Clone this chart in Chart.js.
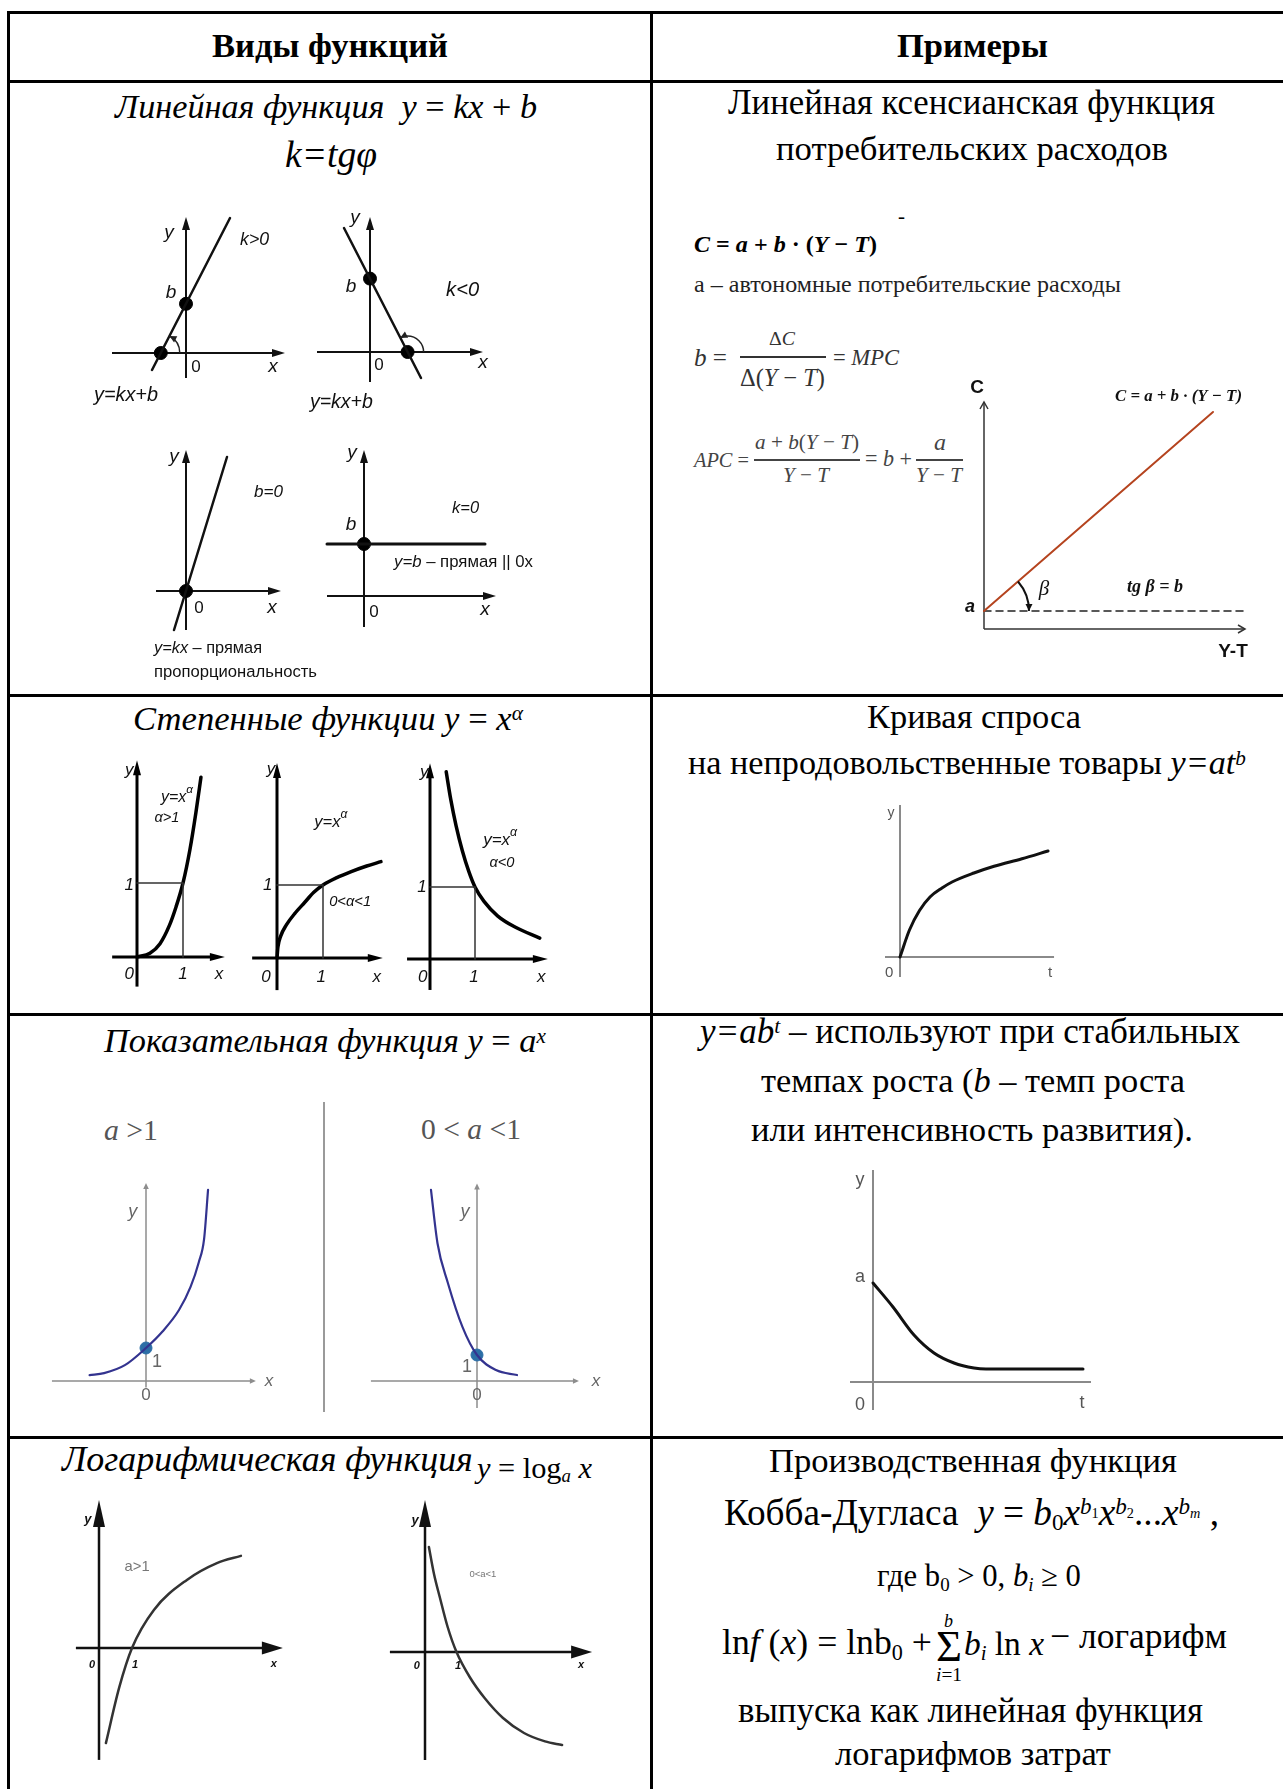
<!DOCTYPE html>
<html><head><meta charset="utf-8">
<script src="https://cdn.jsdelivr.net/npm/chart.js@4.4.1/dist/chart.umd.min.js"></script>
<style>
html,body{margin:0;padding:0;background:#fff;}
#page{position:relative;width:1283px;height:1789px;overflow:hidden;background:#fff;}
.t{position:absolute;white-space:nowrap;line-height:1;font-family:"Liberation Serif","Times New Roman",serif;color:#000;}
.t .sp{position:relative;top:-0.45em;font-size:0.62em;}
.t .sb{position:relative;top:0.25em;font-size:0.62em;}
.hl{position:absolute;background:#000;}
canvas{position:absolute;}
</style></head><body><div id="page"></div>
<script>
// ================= DATA =================
// Row 1 — linear functions (1 unit = 20 px)
const linPosLine   = [[-1.7, -0.85], [2.2, 6.75]];
const linPosDots   = [[0, 2.46], [-1.26, 0]];
const linNegLine   = [[-1.3, 6.2], [2.55, -1.3]];
const linNegDots   = [[0, 3.67], [1.88, 0]];
const linPropLine  = [[-0.6, -1.95], [2.05, 6.7]];
const linPropDots  = [[0, 0]];
const linConstLine = [[-1.85, 2.6], [6.05, 2.6]];
const linConstDots = [[0, 2.6]];
// Keynesian consumption function
const consLine = [[0, 1.8], [22.9, 21.7]];
const consBase = [[0, 1.8], [26.4, 1.8]];
// Row 2 — power functions
const powGt1  = [[0,0],[0.28,0.05],[0.5,0.18],[0.7,0.42],[0.85,0.68],[1,1],[1.15,1.45],[1.28,1.95],[1.39,2.43]];
const powMid  = [[0,0],[0.02,0.15],[0.08,0.3],[0.2,0.45],[0.4,0.62],[0.6,0.76],[0.8,0.9],[1,1],[1.3,1.1],[1.6,1.18],[1.95,1.26],[2.26,1.32]];
const powNeg  = [[0.36,2.6],[0.46,2.22],[0.58,1.85],[0.72,1.5],[0.86,1.22],[1,1],[1.2,0.8],[1.5,0.6],[1.9,0.44],[2.44,0.29]];
const powGuide = [[0,1],[1,1],[1,0]];
const demandCurve = [[0,0],[0.63,1.8],[1.3,3.1],[2.0,4.0],[2.8,4.6],[3.47,5.0],[4.93,5.6],[6.27,6.05],[8.13,6.55],[9.87,7.07]];
// Row 3 — exponential functions
const expGrow  = [[-1.71,0.18],[-1.27,0.24],[-0.64,0.48],[0,1],[0.5,1.5],[1.0,2.15],[1.35,2.85],[1.6,3.6],[1.76,4.3],[1.88,5.79]];
const expDecay = [[-1.77,7.35],[-1.52,5.3],[-1.12,3.77],[-0.56,2.08],[0,1],[0.73,0.42],[1.54,0.23]];
const expDots  = [[0,1]];
const abtCurve = [[0,4.95],[1,3.75],[2.05,2.35],[3.05,1.45],[4.05,0.95],[5.05,0.7],[5.65,0.65],[10.5,0.65]];
// Row 4 — logarithmic functions
const logGrow  = [[0.23,-3.17],[0.67,-1.33],[1.1,0],[1.83,1.27],[2.93,2.27],[3.93,2.83],[4.73,3.07]];
const logDecay = [[0.13,3.5],[0.3,2.6],[0.5,1.8],[0.75,0.85],[1.05,0],[1.5,-0.85],[2.0,-1.55],[2.6,-2.2],[3.3,-2.7],[4.0,-2.98],[4.57,-3.1]];

// Axis / annotation labels ("~" switches to upright font, "^" starts a superscript)
const linPosText   = ['y','k>0','b','0','x','y=kx+b'];
const linNegText   = ['y','b','k<0','0','x','y=kx+b'];
const linPropText  = ['y','b=0','0','x','y=kx~ – прямая','пропорциональность'];
const linConstText = ['y','b','k=0','y=b~ – прямая || 0x','0','x'];
const powGt1Text   = ['y','y=x^α','α>1','1','0','1','x'];
const powMidText   = ['y','y=x^α','0<α<1','1','0','1','x'];
const powNegText   = ['y','y=x^α','α<0','1','0','1','x'];
const demandText   = ['y','0','t'];
const expText      = ['y','1','0','x'];
const abtText      = ['y','a','0','t'];
const logGrowText  = ['y','a>1','0','1','x'];
const logDecayText = ['y','0<a<1','0','1','x'];
const consText     = ['C','Y-T','a','C = a + b · (Y − T)','β','tg β = b'];

// ================= LAYOUT =================
const page = document.getElementById('page');
function rect(l,t,w,h,c){const d=document.createElement('div');d.className='hl';
  Object.assign(d.style,{left:l+'px',top:t+'px',width:w+'px',height:h+'px',background:c||'#000'});page.appendChild(d);}
function T(html,l,r,base,color){
  const d=document.createElement('div');d.className='t';d.innerHTML=html;
  if(color)d.style.color=color;d.style.fontSize='100px';page.appendChild(d);
  const w=d.getBoundingClientRect().width;const fs=100*(r-l)/w;
  d.style.fontSize=fs.toFixed(2)+'px';d.style.left=l+'px';d.style.top=(base-0.84*fs)+'px';
}
// table grid (no right border in the reference — the table runs off the edge)
rect(7,11,1276,3); rect(7,80,1276,3); rect(7,694,1276,3); rect(7,1013,1276,3); rect(7,1436,1276,3);
rect(7,11,3,1778); rect(650,11,3,1778);
rect(323,1102,1.5,310,'#9a9a9a');
// fraction bars
rect(740,356,86,1.5,'#333'); rect(754,459,106,1.5,'#444'); rect(916,459,47,1.5,'#444');

const cells = [
 ['<b>Виды функций</b>',212,448,57],
 ['<b>Примеры</b>',897,1048,57],
 ['<i>Линейная функция</i>&nbsp; <i>y</i> = <i>kx</i> + <i>b</i>',115,537,119],
 ['<i>k=tgφ</i>',285,377,168],
 ['Линейная ксенсианская функция',728,1215,115],
 ['потребительских расходов',776,1168,161],
 ['-',898,905,224],
 ['<b><i>C</i> = <i>a</i> + <i>b</i> · (<i>Y</i> − <i>T</i>)</b>',694,877,252],
 ['а – автономные потребительские расходы',694,1121,292,'#222'],
 ['<i>b</i> =',694,727,366,'#333'],
 ['Δ<i>C</i>',769,795,346,'#333'],
 ['Δ(<i>Y</i> − <i>T</i>)',740,825,386,'#333'],
 ['= <i>MPC</i>',833,899,366,'#333'],
 ['<i>APC</i> =',694,749,467,'#444'],
 ['<i>a</i> + <i>b</i>(<i>Y</i> − <i>T</i>)',755,859,450,'#444'],
 ['<i>Y</i> − <i>T</i>',783,829,483,'#444'],
 ['= <i>b</i> +',865,912,467,'#444'],
 ['<i>a</i>',934,946,450,'#444'],
 ['<i>Y</i> − <i>T</i>',916,962,483,'#444'],
 ['<i>Степенные функции</i> <i>y</i> = <i>x</i><span class="sp"><i>α</i></span>',133,523,730],
 ['Кривая спроса',867,1081,728],
 ['на непродовольственные товары <i>y=at<span class="sp">b</span></i>',688,1246,775],
 ['<i>Показательная функция</i> <i>y</i> = <i>a<span class="sp">x</span></i>',104,546,1052],
 ['<i>a</i> &gt;1',104,158,1140,'#555'],
 ['0 &lt; <i>a</i> &lt;1',421,521,1140,'#555'],
 ['<i>y=ab<span class="sp">t</span></i> – используют при стабильных',700,1240,1043],
 ['темпах роста (<i>b</i> – темп роста',761,1185,1092],
 ['или интенсивность развития).',751,1193,1141],
 ['<i>Логарифмическая функция</i>',62,473,1472],
 ['<i>y</i> = log<span class="sb"><i>a</i></span> <i>x</i>',477,592,1478],
 ['Производственная функция',769,1177,1472],
 ['Кобба-Дугласа&nbsp; <i>y</i> = <i>b</i><span class="sb">0</span><i>x</i><span class="sp"><i>b</i><span class="sb">1</span></span><i>x</i><span class="sp"><i>b</i><span class="sb">2</span></span>...<i>x</i><span class="sp"><i>b</i><span class="sb"><i>m</i></span></span> ,',724,1219,1525],
 ['где b<span class="sb">0</span> &gt; 0, <i>b<span class="sb">i</span></i> ≥ 0',877,1081,1587],
 ['ln<i>f</i> (<i>x</i>) = lnb<span class="sb">0</span> +',722,932,1655],
 ['Σ',936,962,1662],
 ['<i>b</i>',944,953,1627],
 ['<i>i</i>=1',936,962,1681],
 ['<i>b<span class="sb">i</span></i> ln <i>x</i>',964,1044,1655],
 ['− логарифм',1050,1227,1649],
 ['выпуска как линейная функция',738,1203,1723],
 ['логарифмов затрат',835,1111,1765]
];
cells.forEach(c=>T(c[0],c[1],c[2],c[3],c[4]));

// ================= MINI CHARTS =================
const FS='"Liberation Sans", Arial, sans-serif', FR='"Liberation Serif", "Times New Roman", serif';
const fi=s=>`italic ${s}px ${FS}`, fn=s=>`${s}px ${FS}`, fb=s=>`bold ${s}px ${FS}`, fbi=s=>`italic bold ${s}px ${FS}`;
const ri=s=>`italic ${s}px ${FR}`, rbi=s=>`italic bold ${s}px ${FR}`;
const pts=a=>a.map(([x,y])=>({x,y}));

function arrowHead(ctx,p,q,arr){
  const dx=q[0]-p[0],dy=q[1]-p[1],L=Math.hypot(dx,dy),ux=dx/L,uy=dy/L;
  const bx=q[0]-ux*arr.len,by=q[1]-uy*arr.len;
  const a1=[bx-uy*arr.half,by+ux*arr.half],a2=[bx+uy*arr.half,by-ux*arr.half];
  ctx.beginPath();
  if(arr.type==='fill'){ctx.moveTo(q[0],q[1]);ctx.lineTo(a1[0],a1[1]);ctx.lineTo(a2[0],a2[1]);ctx.closePath();ctx.fill();}
  else{ctx.moveTo(a1[0],a1[1]);ctx.lineTo(q[0],q[1]);ctx.lineTo(a2[0],a2[1]);ctx.stroke();}
}
function labelParts(txt,lb){
  const out=[];
  txt.split('~').forEach((seg,k)=>{
    const f=k%2?(lb.f2||lb.f):lb.f; const [base,sup]=seg.split('^');
    if(base)out.push([base,f,0]); if(sup!==undefined)out.push([sup,lb.sf||f,-(lb.sd||6)]);
  });return out;
}
function makePlugin(cfg){
  return {id:'mini',
  beforeDatasetsDraw(chart){
    const ctx=chart.ctx,sx=chart.scales.x,sy=chart.scales.y;
    const P=(x,y)=>[sx.getPixelForValue(x),sy.getPixelForValue(y)];
    const a=cfg.axes;if(!a)return;
    ctx.save();ctx.strokeStyle=a.color;ctx.fillStyle=a.color;ctx.lineWidth=a.width;
    const seg=(p,q,arr)=>{
      let e=q;
      if(arr&&arr.type==='fill'){const dx=q[0]-p[0],dy=q[1]-p[1],L=Math.hypot(dx,dy);e=[q[0]-dx/L*arr.len*0.6,q[1]-dy/L*arr.len*0.6];}
      ctx.beginPath();ctx.moveTo(p[0],p[1]);ctx.lineTo(e[0],e[1]);ctx.stroke();
      if(arr)arrowHead(ctx,p,q,arr);
    };
    seg(P(a.x[0],0),P(a.x[1],0),a.arrowX||a.arrow);
    seg(P(0,a.y[0]),P(0,a.y[1]),a.arrowY||a.arrow);
    ctx.restore();
  },
  afterDatasetsDraw(chart){
    const ctx=chart.ctx,sx=chart.scales.x,sy=chart.scales.y;
    const P=(x,y)=>[sx.getPixelForValue(x),sy.getPixelForValue(y)];
    (cfg.arcs||[]).forEach(ar=>{
      const c=P(...ar.c),f=P(...ar.from),t=P(...ar.to);
      const a0=Math.atan2(f[1]-c[1],f[0]-c[0]),a1=Math.atan2(t[1]-c[1],t[0]-c[0]);
      let d=a1-a0;while(d>Math.PI)d-=2*Math.PI;while(d<=-Math.PI)d+=2*Math.PI;
      ctx.save();ctx.strokeStyle=ar.color;ctx.fillStyle=ar.color;ctx.lineWidth=ar.width;
      ctx.beginPath();ctx.arc(c[0],c[1],ar.r,a0,a0+d,d<0);ctx.stroke();
      const s=Math.sign(d),endA=ar.arrow==='end'?a0+d:a0;
      const tip=[c[0]+ar.r*Math.cos(endA),c[1]+ar.r*Math.sin(endA)];
      let tx=-Math.sin(endA)*s,ty=Math.cos(endA)*s;if(ar.arrow==='start'){tx=-tx;ty=-ty;}
      arrowHead(ctx,[tip[0]-tx,tip[1]-ty],tip,{type:'fill',len:ar.al||7,half:ar.ah||3.5});
      ctx.restore();
    });
    (cfg.labels||[]).forEach((lb,i)=>{
      const parts=labelParts(cfg.text[i],lb);const [px,py]=P(lb.x,lb.y);
      let total=0;parts.forEach(([t,f])=>{ctx.font=f;total+=ctx.measureText(t).width;});
      const k=lb.w?lb.w/total:1;
      ctx.save();ctx.translate(px,py);ctx.scale(k,k);
      ctx.fillStyle=lb.color||cfg.labelColor||'#111';ctx.textBaseline='middle';ctx.textAlign='left';
      let x=lb.align==='left'?0:lb.align==='right'?-total:-total/2;
      parts.forEach(([t,f,dy])=>{ctx.font=f;ctx.fillText(t,x,dy);x+=ctx.measureText(t).width;});
      ctx.restore();
    });
  }};
}
function mkChart(cfg){
  const [L,Tp,W,H]=cfg.box,[ox,oy]=cfg.origin,[ux,uy]=cfg.unit;
  const c=document.createElement('canvas');c.width=W;c.height=H;
  Object.assign(c.style,{left:L+'px',top:Tp+'px',width:W+'px',height:H+'px'});page.appendChild(c);
  const ds=[];
  (cfg.series||[]).forEach(s=>ds.push({data:pts(s.data),showLine:true,borderColor:s.color,borderWidth:s.width,
    borderDash:s.dash||[],pointRadius:0,cubicInterpolationMode:s.smooth?'monotone':'default',tension:0,fill:false,clip:false,
    borderCapStyle:'round',borderJoinStyle:'round'}));
  (cfg.dots||[]).forEach(d=>ds.push({data:pts(d.data),showLine:false,pointRadius:d.r,pointBackgroundColor:d.color,
    pointBorderColor:d.border||d.color,pointBorderWidth:1,clip:false}));
  new Chart(c,{type:'scatter',data:{datasets:ds},options:{responsive:false,animation:false,devicePixelRatio:1,events:[],
    layout:{autoPadding:false,padding:0},plugins:{legend:{display:false},tooltip:{enabled:false}},
    scales:{x:{type:'linear',display:false,min:(L-ox)/ux,max:(L+W-ox)/ux},
            y:{type:'linear',display:false,min:(oy-Tp-H)/uy,max:(oy-Tp)/uy}}},plugins:[makePlugin(cfg)]});
}
const ARL={type:'fill',len:13,half:4};
const ARP={type:'fill',len:15,half:4};
const ARE={type:'fill',len:6,half:2.8};
const plots=[
 {box:[85,205,220,205],origin:[186,353],unit:[20,20],
  axes:{x:[-3.7,4.95],y:[-1.25,6.8],color:'#111',width:2,arrow:ARL},
  series:[{data:linPosLine,color:'#111',width:2.5}],dots:[{data:linPosDots,r:6.5,color:'#000'}],
  arcs:[{c:linPosDots[1],from:[4,0],to:linPosLine[1],r:19,arrow:'end',color:'#222',width:1.5}],
  text:linPosText,
  labels:[{x:-0.85,y:6.0,f:fi(19)},{x:3.43,y:5.65,f:fi(17),w:29},{x:-0.75,y:3.0,f:fi(19)},{x:0.5,y:-0.7,f:fn(17)},{x:4.35,y:-0.7,f:fi(19)},{x:-3.0,y:-2.1,f:fi(17),w:64}]},
 {box:[300,205,200,210],origin:[370,352],unit:[20,20],
  axes:{x:[-2.65,5.65],y:[-1.5,6.75],color:'#111',width:2,arrow:ARL},
  series:[{data:linNegLine,color:'#111',width:2.5}],dots:[{data:linNegDots,r:6.5,color:'#000'}],
  arcs:[{c:linNegDots[1],from:[5,0],to:linNegLine[0],r:16,arrow:'end',color:'#222',width:1.5}],
  text:linNegText,
  labels:[{x:-0.75,y:6.7,f:fi(19)},{x:-0.95,y:3.25,f:fi(19)},{x:4.63,y:3.1,f:fi(17),w:33},{x:0.45,y:-0.65,f:fn(17)},{x:5.65,y:-0.55,f:fi(19)},{x:-1.43,y:-2.55,f:fi(17),w:63}]},
 {box:[145,440,190,245],origin:[186,591],unit:[20,20],
  axes:{x:[-1.5,4.75],y:[-1.95,7.05],color:'#111',width:2,arrow:ARL},
  series:[{data:linPropLine,color:'#111',width:2.5}],dots:[{data:linPropDots,r:6.5,color:'#000'}],
  text:linPropText,
  labels:[{x:-0.6,y:6.7,f:fi(19)},{x:4.13,y:4.95,f:fi(17),w:29},{x:0.65,y:-0.85,f:fn(17)},{x:4.3,y:-0.85,f:fi(19)},
          {x:-1.6,y:-2.85,f:fi(17),f2:fn(17),align:'left',w:108},{x:-1.6,y:-4.05,f:fn(17),align:'left',w:163}]},
 {box:[318,440,225,190],origin:[364,596],unit:[20,20],
  axes:{x:[-1.85,6.6],y:[-1.55,7.3],color:'#111',width:2,arrow:ARL},
  series:[{data:linConstLine,color:'#111',width:3}],dots:[{data:linConstDots,r:6.5,color:'#000'}],
  text:linConstText,
  labels:[{x:-0.6,y:7.15,f:fi(19)},{x:-0.65,y:3.55,f:fi(19)},{x:5.08,y:4.4,f:fi(17),w:27},{x:1.5,y:1.7,f:fi(17),f2:fn(17),align:'left',w:139},{x:0.5,y:-0.8,f:fn(17)},{x:6.05,y:-0.7,f:fi(19)}]},
 {box:[955,370,325,295],origin:[984,629],unit:[10,10],
  axes:{x:[0,26.1],y:[0,22.7],color:'#333',width:1.5,arrow:{type:'open',len:7,half:4}},
  series:[{data:consLine,color:'#b5441f',width:2},{data:consBase,color:'#222',width:1.5,dash:[7,5]}],
  arcs:[{c:consLine[0],from:consBase[1],to:consLine[1],r:45,arrow:'start',color:'#111',width:2}],
  text:consText,
  labels:[{x:-0.7,y:24.1,f:fb(19)},{x:24.9,y:-2.3,f:fb(19)},{x:-1.4,y:2.2,f:fbi(18)},{x:19.45,y:23.2,f:rbi(15),w:127},{x:6,y:4,f:ri(21)},{x:17.1,y:4.2,f:rbi(15),w:56}]},
 {box:[100,755,135,240],origin:[137,957],unit:[46,74],
  axes:{x:[-0.54,1.91],y:[-0.4,2.66],color:'#000',width:3,arrow:ARP},
  series:[{data:powGuide,color:'#333',width:1.5},{data:powGt1,color:'#000',width:3.5,smooth:true}],
  text:powGt1Text,
  labels:[{x:-0.17,y:2.53,f:fi(17)},{x:0.87,y:2.16,f:fi(15),sf:fi(11),sd:7,w:32},{x:0.65,y:1.88,f:fi(15),w:25},{x:-0.17,y:0.97,f:fi(17)},{x:-0.17,y:-0.24,f:fi(17)},{x:1,y:-0.24,f:fi(17)},{x:1.78,y:-0.24,f:fi(17)}]},
 {box:[245,755,145,240],origin:[277,958],unit:[46,73],
  axes:{x:[-0.54,2.3],y:[-0.44,2.67],color:'#000',width:3,arrow:ARP},
  series:[{data:powGuide,color:'#333',width:1.5},{data:powMid,color:'#000',width:3.5,smooth:true}],
  text:powMidText,
  labels:[{x:-0.13,y:2.58,f:fi(17)},{x:1.17,y:1.86,f:fi(15),sf:fi(11),sd:7,w:33},{x:1.59,y:0.77,f:fi(15),w:42},{x:-0.2,y:1.0,f:fi(17)},{x:-0.24,y:-0.26,f:fi(17)},{x:0.96,y:-0.26,f:fi(17)},{x:2.17,y:-0.26,f:fi(17)}]},
 {box:[400,755,160,240],origin:[430,959],unit:[45,72],
  axes:{x:[-0.51,2.62],y:[-0.43,2.72],color:'#000',width:3,arrow:ARP},
  series:[{data:powGuide,color:'#333',width:1.5},{data:powNeg,color:'#000',width:3.5,smooth:true}],
  text:powNegText,
  labels:[{x:-0.13,y:2.6,f:fi(17)},{x:1.56,y:1.65,f:fi(15),sf:fi(11),sd:7,w:34},{x:1.6,y:1.33,f:fi(15),w:25},{x:-0.18,y:0.99,f:fi(17)},{x:-0.16,y:-0.25,f:fi(17)},{x:0.98,y:-0.25,f:fi(17)},{x:2.47,y:-0.25,f:fi(17)}]},
 {box:[875,795,190,195],origin:[900,957],unit:[15,15],
  axes:{x:[-1,10.27],y:[-1.33,10.13],color:'#8a8a8a',width:2},
  series:[{data:demandCurve,color:'#111',width:3,smooth:true}],
  text:demandText,labelColor:'#555',
  labels:[{x:-0.6,y:9.6,f:fn(14)},{x:-0.73,y:-1.07,f:fn(15)},{x:10,y:-1.07,f:fn(15)}]},
 {box:[40,1175,250,240],origin:[146,1381],unit:[33,33],
  axes:{x:[-2.85,3.33],y:[-0.2,6.0],color:'#8d8d8d',width:1.5,arrow:ARE},
  series:[{data:expGrow,color:'#33338f',width:2.2,smooth:true}],dots:[{data:expDots,r:6,color:'#2c6ea6'}],
  text:expText,labelColor:'#666',
  labels:[{x:-0.4,y:5.12,f:fi(18)},{x:0.33,y:0.58,f:fn(18)},{x:0,y:-0.42,f:fn(17)},{x:3.73,y:0,f:fi(17)}]},
 {box:[360,1175,250,240],origin:[477,1381],unit:[26,26],
  axes:{x:[-4.08,3.92],y:[-1.04,7.6],color:'#8d8d8d',width:1.5,arrow:ARE},
  series:[{data:expDecay,color:'#33338f',width:2.2,smooth:true}],dots:[{data:expDots,r:6,color:'#2c6ea6'}],
  text:expText,labelColor:'#666',
  labels:[{x:-0.46,y:6.5,f:fi(18)},{x:-0.38,y:0.54,f:fn(18)},{x:0,y:-0.54,f:fn(17)},{x:4.58,y:0,f:fi(17)}]},
 {box:[845,1160,255,260],origin:[873,1382],unit:[20,20],
  axes:{x:[-1.15,10.9],y:[-1.4,10.6],color:'#8a8a8a',width:2},
  series:[{data:abtCurve,color:'#111',width:3,smooth:true}],
  text:abtText,labelColor:'#555',
  labels:[{x:-0.65,y:10.1,f:fn(18)},{x:-0.65,y:5.25,f:fn(18)},{x:-0.65,y:-1.15,f:fn(18)},{x:10.45,y:-1.05,f:fn(18)}]},
 {box:[70,1495,225,275],origin:[99,1648],unit:[30,30],
  axes:{x:[-0.77,6.13],y:[-3.73,4.93],color:'#111',width:2.5,arrowX:{type:'fill',len:21,half:6.5},arrowY:{type:'fill',len:27,half:6}},
  series:[{data:logGrow,color:'#333',width:2.5,smooth:true}],
  text:logGrowText,
  labels:[{x:-0.37,y:4.27,f:fbi(13)},{x:1.27,y:2.7,f:fn(10),color:'#777',w:25},{x:-0.23,y:-0.57,f:fbi(11)},{x:1.2,y:-0.57,f:fbi(11)},{x:5.83,y:-0.53,f:fbi(11)}]},
 {box:[380,1495,225,275],origin:[425,1652],unit:[30,30],
  axes:{x:[-1.17,5.57],y:[-3.6,5.07],color:'#111',width:2.5,arrowX:{type:'fill',len:21,half:6.5},arrowY:{type:'fill',len:27,half:6}},
  series:[{data:logDecay,color:'#333',width:2.5,smooth:true}],
  text:logDecayText,
  labels:[{x:-0.33,y:4.4,f:fbi(13)},{x:1.93,y:2.6,f:fn(10),color:'#777',w:27},{x:-0.27,y:-0.47,f:fbi(11)},{x:1.1,y:-0.47,f:fbi(11)},{x:5.2,y:-0.43,f:fbi(11)}]}
];
plots.forEach(mkChart);
</script></body></html>
